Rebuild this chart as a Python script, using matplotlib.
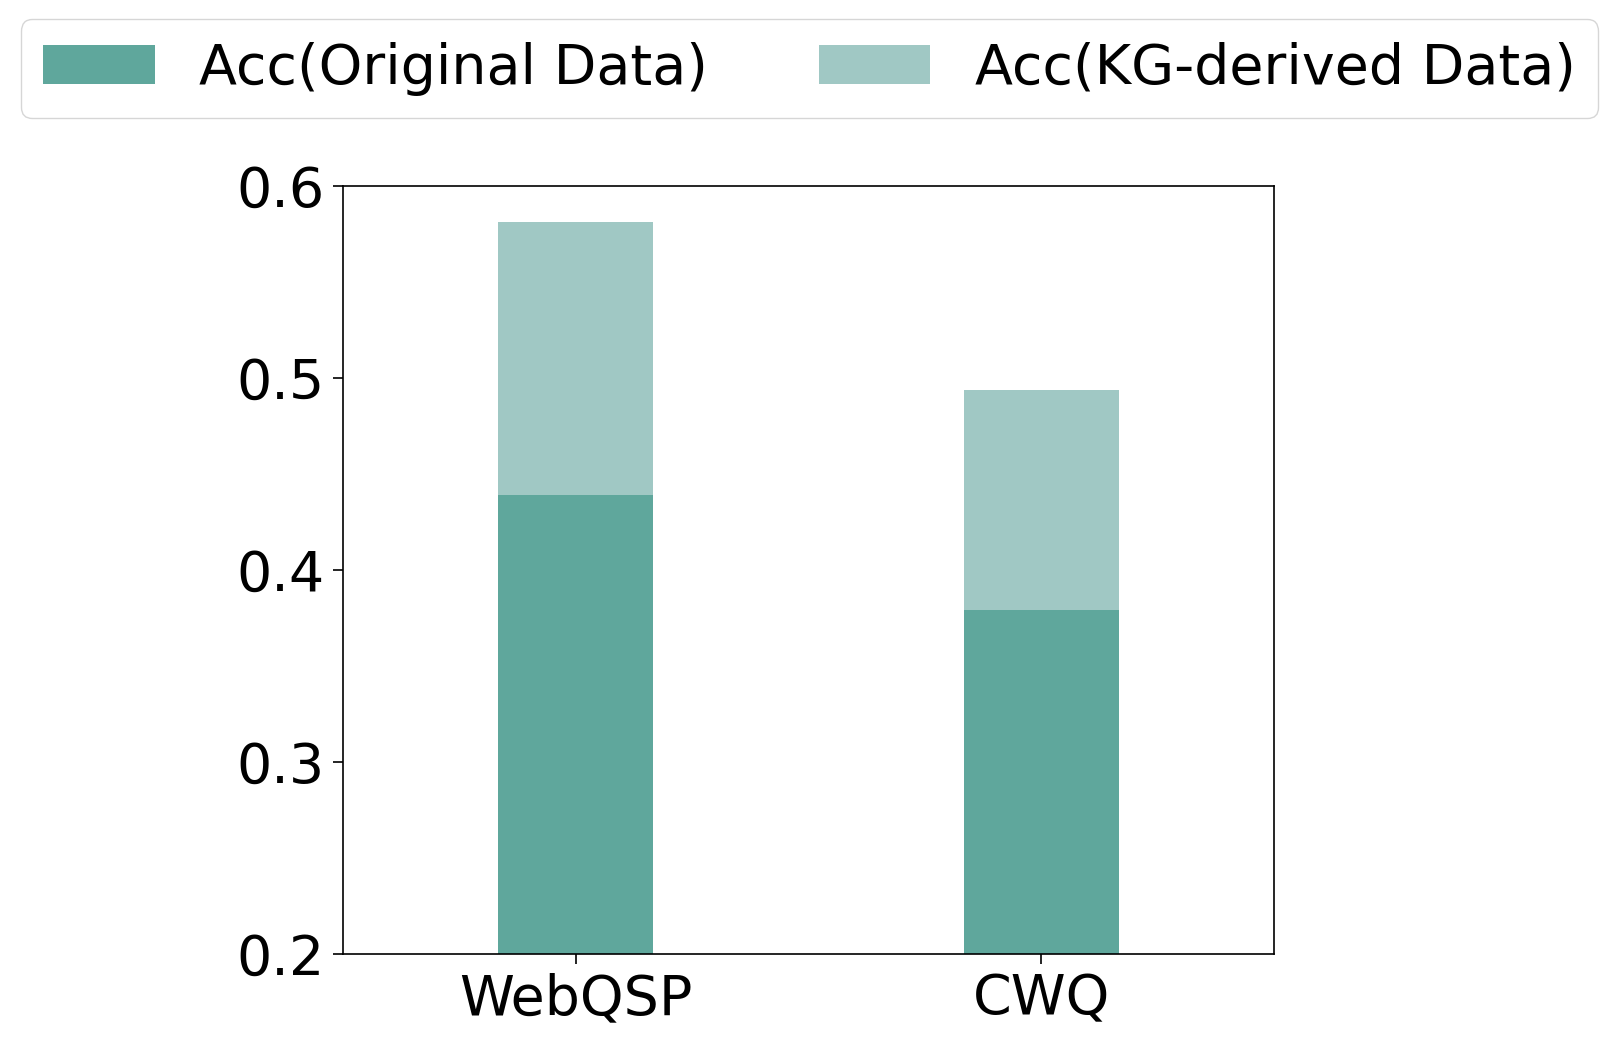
import matplotlib
matplotlib.use("Agg")
import matplotlib.pyplot as plt
import numpy as np

categories = ["WebQSP", "CWQ"]
acc_original = [0.439, 0.379]
acc_kg_derived = [0.581, 0.494]
yticks = [0.2, 0.3, 0.4, 0.5, 0.6]

dark = "#5fa79c"
light = "#a0c8c4"

fig = plt.figure(figsize=(16.17, 10.48), dpi=100)
ax = fig.add_axes([0.2121, 0.0897, 0.5758, 0.7328])

x = np.arange(len(categories))
w = 0.333
b2 = ax.bar(x, acc_kg_derived, width=w, color=light, label="Acc(KG-derived Data)")
b1 = ax.bar(x, acc_original, width=w, color=dark, label="Acc(Original Data)")

ax.set_xlim(-0.5, 1.5)
ax.set_ylim(0.2, 0.6)
ax.set_xticks(x)
ax.set_xticklabels(categories)
ax.set_yticks(yticks)
ax.set_yticklabels([f"{v:.1f}" for v in yticks])
ax.tick_params(labelsize=40, length=7, width=1.2, pad=6)
for s in ax.spines.values():
    s.set_linewidth(1.2)

fig.legend(handles=[b1, b2], loc="upper center", bbox_to_anchor=(0.5006, 1.008),
           ncol=2, fontsize=40, frameon=True)

fig.savefig("out.png", dpi=100)
